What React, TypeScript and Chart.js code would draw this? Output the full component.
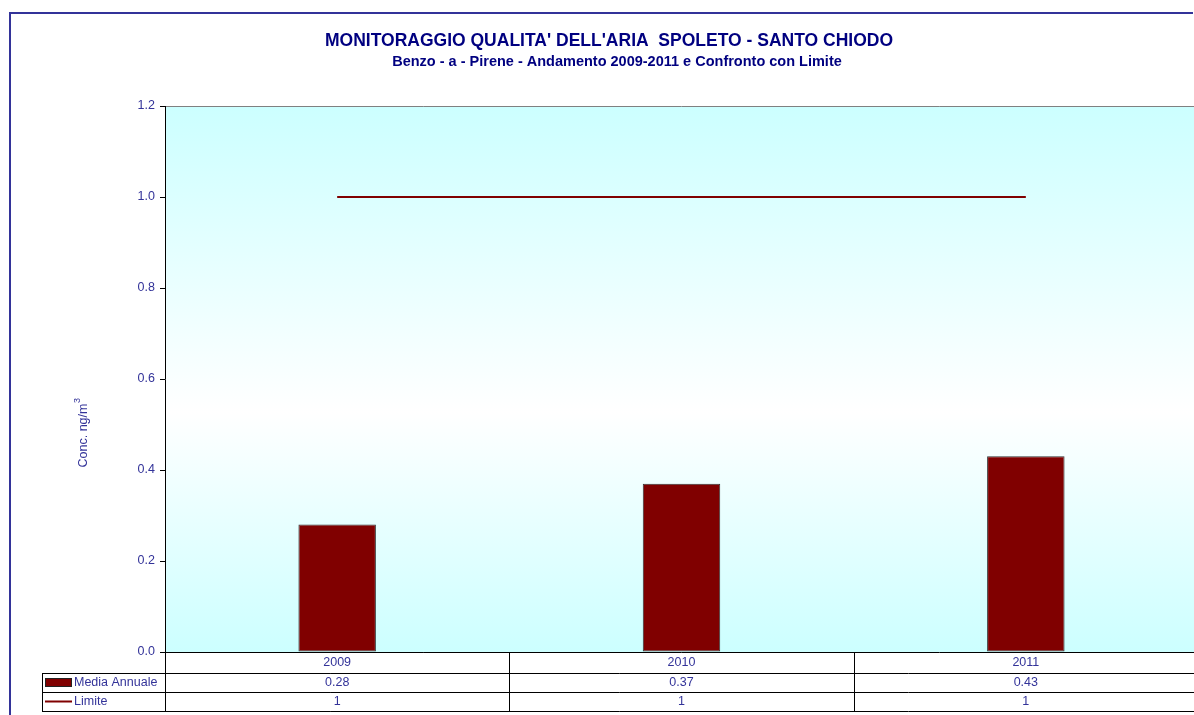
import React, { useEffect, useRef } from "react";
import { Chart, registerables } from "chart.js";

Chart.register(...registerables);

const titleText = "MONITORAGGIO QUALITA' DELL'ARIA  SPOLETO - SANTO CHIODO";
const subtitleText = "Benzo - a - Pirene - Andamento 2009-2011 e Confronto con Limite";
const yAxisTitle = "Conc. ng/m";
const categories = ["2009", "2010", "2011"];
const mediaAnnuale = [0.28, 0.37, 0.43];
const limite = [1, 1, 1];
const seriesNames = ["Media Annuale", "Limite"];
const mediaLabels = ["0.28", "0.37", "0.43"];
const limiteLabels = ["1", "1", "1"];

const TEXT = "#333399";
const NAVY = "#000080";
const BAR = "#800000";
const FONT = "Arial, 'Liberation Sans', sans-serif";

const decor = {
  id: "decor",
  beforeDraw(chart: any) {
    const { ctx, chartArea: a } = chart;
    ctx.save();
    ctx.fillStyle = "#ffffff";
    ctx.fillRect(0, 0, chart.width, chart.height);
    const g = ctx.createLinearGradient(0, a.top, 0, a.bottom);
    g.addColorStop(0, "#CCFFFF");
    g.addColorStop(0.56, "#FFFFFF");
    g.addColorStop(1, "#CCFFFF");
    ctx.fillStyle = g;
    ctx.fillRect(a.left, a.top, a.right - a.left, a.bottom - a.top);
    ctx.strokeStyle = "#808080";
    ctx.lineWidth = 1;
    ctx.beginPath();
    ctx.moveTo(a.left, a.top + 0.5);
    ctx.lineTo(a.right, a.top + 0.5);
    ctx.stroke();
    ctx.restore();
  },
  afterDraw(chart: any) {
    const { ctx, chartArea: a } = chart;
    const xs = chart.scales.x;
    ctx.save();
    // frame
    ctx.strokeStyle = "#333399";
    ctx.lineWidth = 2;
    ctx.beginPath();
    ctx.moveTo(10, 715);
    ctx.lineTo(10, 13);
    ctx.lineTo(1193, 13);
    ctx.stroke();

    // titles
    ctx.fillStyle = NAVY;
    ctx.textAlign = "center";
    ctx.textBaseline = "middle";
    ctx.font = `bold 17.5px ${FONT}`;
    ctx.fillText(titleText, 609, 41);
    ctx.font = `bold 14.5px ${FONT}`;
    ctx.fillText(subtitleText, 617, 62);

    // y axis title
    ctx.save();
    ctx.translate(84, 432);
    ctx.rotate(-Math.PI / 2);
    ctx.fillStyle = TEXT;
    ctx.font = `12.5px ${FONT}`;
    ctx.textAlign = "left";
    ctx.textBaseline = "middle";
    const w = ctx.measureText(yAxisTitle).width;
    const w3 = 7;
    const sx = -(w + w3) / 2;
    ctx.fillText(yAxisTitle, sx, 0);
    ctx.font = `9px ${FONT}`;
    ctx.fillText("3", sx + w + 0.5, -6);
    ctx.restore();

    // table
    const r0 = a.bottom;
    const r1 = r0 + 21;
    const r2 = r1 + 19;
    const r3 = r2 + 19;
    const legL = 42;
    const right = chart.width - 0.5;
    ctx.strokeStyle = "#000000";
    ctx.lineWidth = 1;
    const hl = (y: number, x0: number) => {
      ctx.beginPath();
      ctx.moveTo(x0, Math.round(y) + 0.5);
      ctx.lineTo(right, Math.round(y) + 0.5);
      ctx.stroke();
    };
    const vl = (x: number, y0: number, y1: number) => {
      ctx.beginPath();
      ctx.moveTo(Math.round(x) + 0.5, y0);
      ctx.lineTo(Math.round(x) + 0.5, y1);
      ctx.stroke();
    };
    hl(r0, a.left);
    hl(r1, legL);
    hl(r2, legL);
    hl(r3, legL);
    vl(legL, r1, r3 + 1);
    const n = categories.length;
    const cw = (a.right - a.left) / n;
    for (let i = 0; i <= n; i++) {
      vl(a.left + i * cw, r0, r3 + 1);
    }
    ctx.fillStyle = TEXT;
    ctx.font = `12.5px ${FONT}`;
    ctx.textAlign = "center";
    ctx.textBaseline = "middle";
    categories.forEach((c, i) => {
      const cx = xs.getPixelForValue(i);
      ctx.fillText(c, cx, (r0 + r1) / 2);
      ctx.fillText(mediaLabels[i], cx, (r1 + r2) / 2);
      ctx.fillText(limiteLabels[i], cx, (r2 + r3) / 2);
    });
    // legend keys
    ctx.fillStyle = BAR;
    ctx.fillRect(45, r1 + 5, 27, 9);
    ctx.strokeStyle = "#222222";
    ctx.strokeRect(45.5, r1 + 5.5, 26, 8);
    ctx.strokeStyle = BAR;
    ctx.lineWidth = 2;
    ctx.beginPath();
    ctx.moveTo(45, (r2 + r3) / 2);
    ctx.lineTo(72, (r2 + r3) / 2);
    ctx.stroke();
    ctx.fillStyle = TEXT;
    ctx.textAlign = "left";
    ctx.fillText(seriesNames[0], 74, (r1 + r2) / 2);
    ctx.fillText(seriesNames[1], 74, (r2 + r3) / 2);
    ctx.restore();
  },
};

export default function App() {
  const ref = useRef<HTMLCanvasElement>(null);
  useEffect(() => {
    if (!ref.current) return;
    const chart = new Chart(ref.current, {
      type: "bar",
      data: {
        labels: categories,
        datasets: [
          {
            type: "line",
            label: seriesNames[1],
            data: limite,
            borderColor: BAR,
            borderWidth: 2,
            pointRadius: 0,
            fill: false,
            order: 0,
          } as any,
          {
            type: "bar",
            label: seriesNames[0],
            data: mediaAnnuale,
            backgroundColor: BAR,
            borderColor: "#333333",
            borderWidth: 1,
            borderSkipped: false,
            barPercentage: 0.225,
            categoryPercentage: 1,
            order: 1,
          },
        ],
      },
      options: {
        responsive: false,
        animation: false,
        layout: { padding: { left: 10, right: 0, top: 106, bottom: 63 } },
        plugins: {
          legend: { display: false },
          title: { display: false },
          tooltip: { enabled: false },
        },
        scales: {
          x: {
            display: false,
            offset: true,
          },
          y: {
            min: 0,
            max: 1.2,
            afterFit: (s: any) => {
              s.width = 155;
            },
            ticks: {
              stepSize: 0.2,
              color: TEXT,
              font: { family: FONT, size: 12.5 },
              padding: 5,
              callback: (v: any) => Number(v).toFixed(1),
            },
            grid: {
              drawOnChartArea: false,
              drawTicks: true,
              tickLength: 5,
              color: "#000000",
            },
            border: { display: true, color: "#000000", width: 1 },
          },
        },
      },
      plugins: [decor],
    });
    return () => chart.destroy();
  }, []);
  return (
    <div style={{ position: "fixed", left: 0, top: 0, width: 1194, height: 715, overflow: "hidden" }}>
      <canvas ref={ref} width={1198} height={715} style={{ display: "block" }} />
    </div>
  );
}
